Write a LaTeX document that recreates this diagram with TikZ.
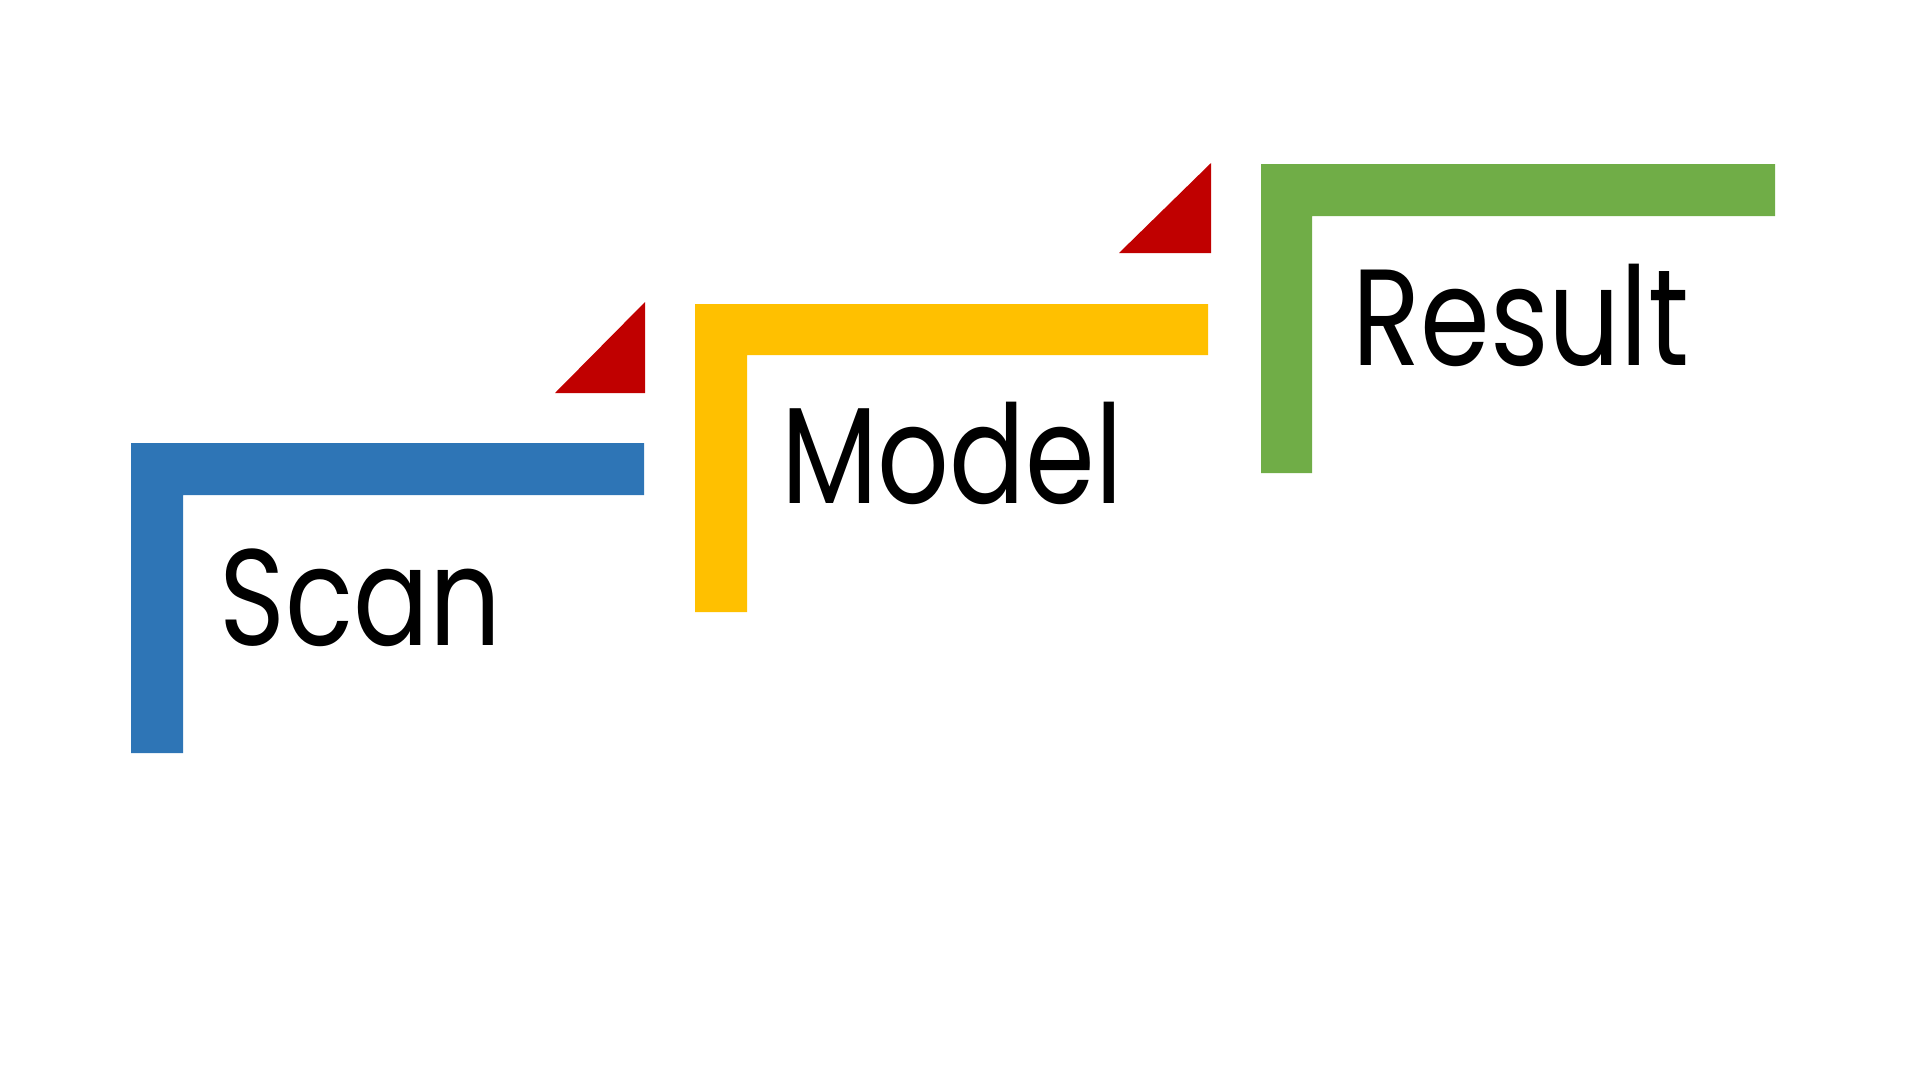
\documentclass[tikz,border=0pt]{standalone}
\usepackage{fontspec}
\setmainfont{Poppins}
\usepackage{tikz}
\usetikzlibrary{positioning}

\definecolor{scanblue}{HTML}{2E75B6}
\definecolor{modelyellow}{HTML}{FFC000}
\definecolor{resultgreen}{HTML}{70AD47}
\definecolor{flagred}{HTML}{C00000}

\newcommand{\narrowtext}[1]{\scalebox{0.82}[1]{#1}}

\begin{document}
\begin{tikzpicture}[x=1pt, y=-1pt,
    stepbar/.style={fill=#1, draw=none},
    flag/.style={fill=flagred, draw=none},
    label/.style={anchor=base west, inner sep=0pt, font=\fontsize{137}{140}\selectfont}]

            \useasboundingbox (0,0) rectangle (1920,1080);

            % Steps
            \fill[stepbar=scanblue] (131,753) -- (131,443) -- (644,443) -- (644,495) -- (183,495) -- (183,753) -- cycle;
            \fill[stepbar=modelyellow] (695,612) -- (695,304) -- (1208,304) -- (1208,355) -- (747,355) -- (747,612) -- cycle;
            \fill[stepbar=resultgreen] (1261,473) -- (1261,164) -- (1775,164) -- (1775,216) -- (1312,216) -- (1312,473) -- cycle;

            % Flags
            \fill[flag] (555,393) -- (645,393) -- (645,302) -- cycle;
            \fill[flag] (1119,253) -- (1211,253) -- (1211,163) -- cycle;

            % Labels
            \node[label] (scan) at (219,645) {\narrowtext{Scan}};
            \node[label] (model) at (781,503) {\narrowtext{Model}};
            \node[label] (result) at (1352,365) {\narrowtext{Result}};

        \end{tikzpicture}
\end{document}
